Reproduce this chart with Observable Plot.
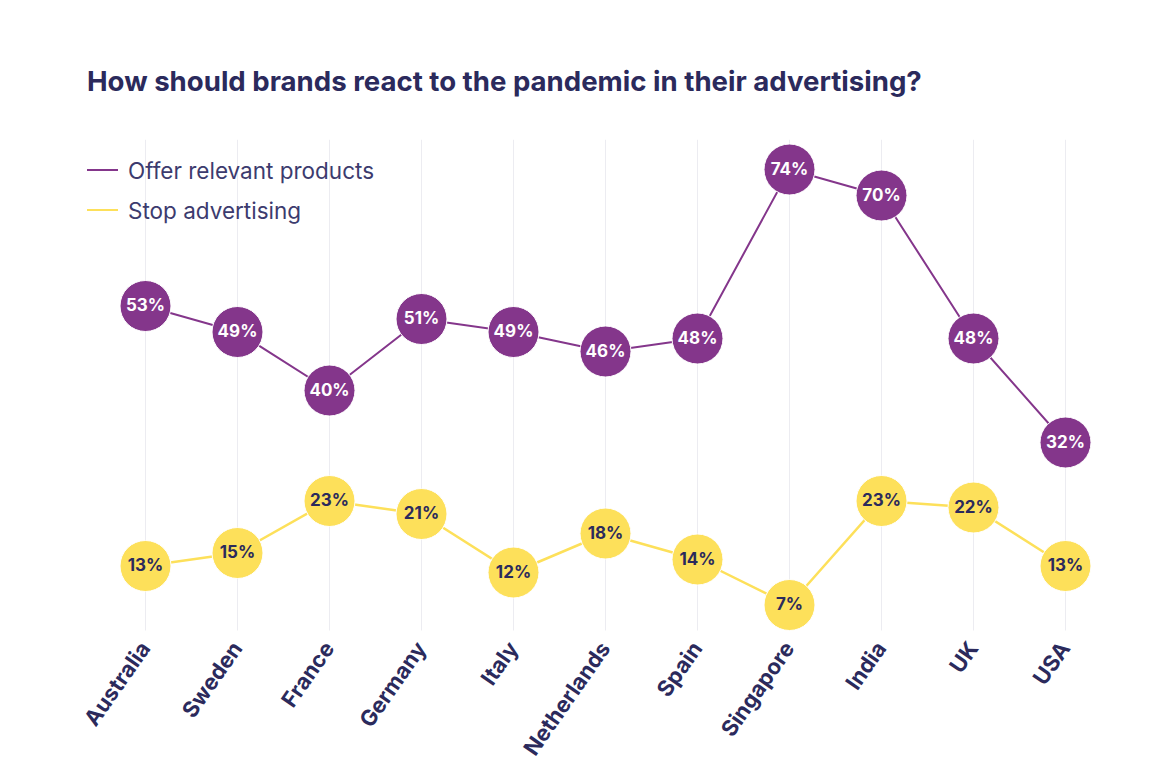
<!DOCTYPE html>
<html>
<head>
<meta charset="utf-8">
<script src="https://cdn.jsdelivr.net/npm/d3@7"></script>
<script src="https://cdn.jsdelivr.net/npm/@observablehq/plot@0.6"></script>
<style>
  html, body { margin: 0; padding: 0; background: #fff; }
  #wrap { position: relative; width: 1158px; height: 776px; overflow: hidden; font-family: Inter, "Open Sans", sans-serif; }
  #title { position: absolute; left: 87px; top: 64px; font-size: 27.6px; font-weight: 700; color: #2b2a5c; white-space: nowrap; }
  #chart { position: absolute; left: 0; top: 120px; }
  #legend { position: absolute; left: 87px; top: 155px; font-size: 22.5px; color: #3c3b6e; }
  .item { display: flex; align-items: center; height: 30px; margin-bottom: 10px; }
  .swatch { width: 31px; height: 2px; margin-right: 10px; }
</style>
</head>
<body>
<div id="wrap">
  <div id="title">How should brands react to the pandemic in their advertising?</div>
  <div id="chart"></div>
  <div id="legend"></div>
</div>
<script>
const countries = ["Australia", "Sweden", "France", "Germany", "Italy", "Netherlands", "Spain", "Singapore", "India", "UK", "USA"];
const offerRelevant = [53, 49, 40, 51, 49, 46, 48, 74, 70, 48, 32];
const stopAdvertising = [13, 15, 23, 21, 12, 18, 14, 7, 23, 22, 13];
const seriesNames = ["Offer relevant products", "Stop advertising"];
const seriesColors = ["#84368b", "#fde05a"];
const labelColors = ["#ffffff", "#2b2a5c"];

const offerData = countries.map((c, i) => ({country: c, value: offerRelevant[i]}));
const stopData = countries.map((c, i) => ({country: c, value: stopAdvertising[i]}));

const plot = Plot.plot({
  width: 1158,
  height: 656,
  marginTop: 10,
  marginBottom: 139,
  marginLeft: 145,
  marginRight: 93,
  x: {type: "point", domain: countries, padding: 0},
  y: {domain: [2, 80], axis: null},
  style: {fontFamily: "Inter, 'Open Sans', sans-serif", background: "transparent"},
  marks: [
    Plot.ruleX(countries, {x: d => d, y1: 3, y2: 78.5, stroke: "#ececf1", strokeWidth: 1}),
    Plot.line(offerData, {x: "country", y: "value", stroke: seriesColors[0], strokeWidth: 2}),
    Plot.line(stopData, {x: "country", y: "value", stroke: seriesColors[1], strokeWidth: 2.5}),
    Plot.dot(offerData, {x: "country", y: "value", r: 25.5, fill: seriesColors[0], stroke: "#fff", strokeWidth: 1}),
    Plot.dot(stopData, {x: "country", y: "value", r: 25.5, fill: seriesColors[1], stroke: "#fff", strokeWidth: 1}),
    Plot.text(offerData, {x: "country", y: "value", text: d => d.value + "%", fill: labelColors[0], fontSize: 17, fontWeight: 700}),
    Plot.text(stopData, {x: "country", y: "value", text: d => d.value + "%", fill: labelColors[1], fontSize: 17, fontWeight: 700}),
    Plot.axisX({tickSize: 0, tickPadding: 7, tickRotate: -55, fontSize: 22, fontWeight: 700, fill: "#2b2a5c", label: null})
  ]
});
document.getElementById("chart").appendChild(plot);

const legend = document.getElementById("legend");
seriesNames.forEach((name, i) => {
  const item = document.createElement("div");
  item.className = "item";
  const sw = document.createElement("span");
  sw.className = "swatch";
  sw.style.background = seriesColors[i];
  const t = document.createElement("span");
  t.textContent = name;
  item.appendChild(sw);
  item.appendChild(t);
  legend.appendChild(item);
});
</script>
</body>
</html>
